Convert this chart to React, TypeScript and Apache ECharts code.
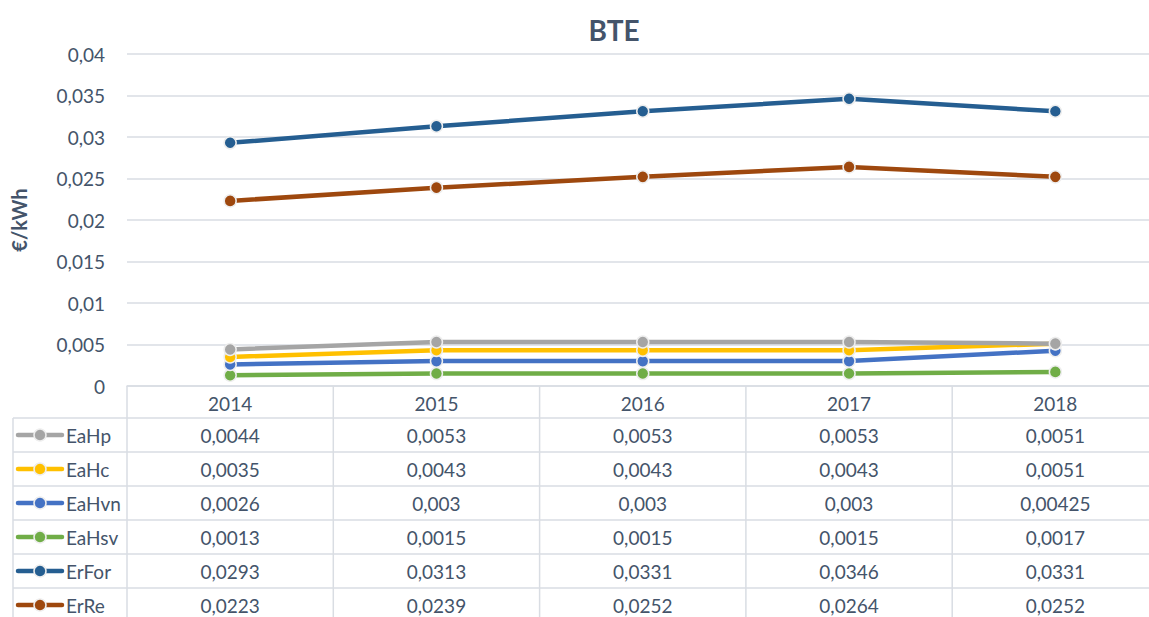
import React, { useEffect, useRef } from "react";
import * as echarts from "echarts";

const categories = ["2014", "2015", "2016", "2017", "2018"];
const seriesNames = ["EaHp", "EaHc", "EaHvn", "EaHsv", "ErFor", "ErRe"];
const eaHp = [0.0044, 0.0053, 0.0053, 0.0053, 0.0051];
const eaHc = [0.0035, 0.0043, 0.0043, 0.0043, 0.0051];
const eaHvn = [0.0026, 0.003, 0.003, 0.003, 0.00425];
const eaHsv = [0.0013, 0.0015, 0.0015, 0.0015, 0.0017];
const erFor = [0.0293, 0.0313, 0.0331, 0.0346, 0.0331];
const erRe = [0.0223, 0.0239, 0.0252, 0.0264, 0.0252];
const seriesValues = [eaHp, eaHc, eaHvn, eaHsv, erFor, erRe];
const colors = ["#a5a5a5", "#ffc000", "#4472c4", "#70ad47", "#255e91", "#9e480e"];

const FONT = "Lato, 'Open Sans', sans-serif";
const TEXT = "#44546a";
const LINE = "#d9dde3";
const FS = 19;

const fmt = (v: number) => String(v).replace(".", ",");

export default function App() {
  const ref = useRef<HTMLDivElement>(null);
  useEffect(() => {
    const chart = echarts.init(ref.current!, null, { renderer: "svg" });
    const gridTop = 54;
    const gridHeight = 332;
    const gridLeft = 127;
    chart.setOption({
      animation: false,
      backgroundColor: "#ffffff",
      textStyle: { fontFamily: FONT },
      title: {
        text: "BTE",
        left: 609,
        textAlign: "center",
        top: 11,
        textStyle: { fontSize: 28, fontWeight: "bold", color: TEXT, fontFamily: FONT },
      },
      grid: {
        left: gridLeft,
        top: gridTop,
        width: 1031.5,
        height: gridHeight,
        containLabel: false,
        outerBoundsMode: "none",
      },
      xAxis: {
        type: "category",
        data: categories,
        boundaryGap: true,
        axisLine: { show: true, lineStyle: { color: LINE, width: 1.5 } },
        axisTick: { show: false },
        axisLabel: { fontSize: FS, color: TEXT, margin: 8, fontFamily: FONT },
      },
      yAxis: {
        type: "value",
        min: 0,
        max: 0.04,
        interval: 0.005,
        name: "€/kWh",
        nameLocation: "middle",
        nameGap: 98,
        nameRotate: 90,
        nameTextStyle: { fontSize: 20, fontWeight: "bold", color: TEXT, fontFamily: FONT },
        axisLine: { show: false },
        axisTick: { show: false },
        splitLine: { lineStyle: { color: LINE, width: 1.5 } },
        axisLabel: {
          fontSize: FS,
          color: TEXT,
          margin: 22,
          fontFamily: FONT,
          formatter: (v: number) => fmt(Number(v.toFixed(4))),
        },
      },
      series: seriesNames.map((name, i) => ({
        name,
        type: "line",
        data: seriesValues[i],
        color: colors[i],
        lineStyle: { width: 4.5, color: colors[i] },
        symbol: "circle",
        symbolSize: 12,
        itemStyle: { color: colors[i], borderColor: "#eeeeee", borderWidth: 1.5 },
        z: 2 + (seriesNames.length - i),
      })),
    });

    // Data table below the chart
    const xs = categories.map((c) => chart.convertToPixel({ xAxisIndex: 0 }, c) as number);
    const band = xs[1] - xs[0];
    const y0 = chart.convertToPixel({ yAxisIndex: 0 }, 0) as number;
    const headerH = 32;
    const rowH = 34;
    const tableLeft = 13;
    const bottom = 617;
    const right = 1149;
    const graphics: any[] = [];
    for (let r = 0; r < seriesNames.length; r++) {
      const y = y0 + headerH + r * rowH;
      graphics.push({
        type: "line",
        shape: { x1: tableLeft, y1: y, x2: right, y2: y },
        style: { stroke: LINE, lineWidth: 1.5 },
      });
    }
    graphics.push({
      type: "line",
      shape: { x1: tableLeft, y1: y0 + headerH, x2: tableLeft, y2: bottom },
      style: { stroke: LINE, lineWidth: 1.5 },
    });
    for (let c = 0; c <= categories.length; c++) {
      const x = xs[0] - band / 2 + c * band;
      graphics.push({
        type: "line",
        shape: { x1: x, y1: y0, x2: x, y2: bottom },
        style: { stroke: LINE, lineWidth: 1.5 },
      });
    }
    seriesValues.forEach((vals, r) => {
      const cy = y0 + headerH + r * rowH + rowH / 2;
      graphics.push({
        type: "line",
        shape: { x1: 18, y1: cy, x2: 62, y2: cy },
        style: { stroke: colors[r], lineWidth: 4.5, lineCap: "round" },
      });
      graphics.push({
        type: "circle",
        shape: { cx: 40, cy, r: 6 },
        style: { fill: colors[r], stroke: "#eeeeee", lineWidth: 1.5 },
      });
      graphics.push({
        type: "text",
        x: 66,
        y: cy,
        style: {
          text: seriesNames[r],
          fill: TEXT,
          font: `${FS}px ${FONT}`,
          align: "left",
          verticalAlign: "middle",
        },
      });
      vals.forEach((v, c) => {
        graphics.push({
          type: "text",
          x: xs[c],
          y: cy,
          style: {
            text: fmt(v),
            fill: TEXT,
            font: `${FS}px ${FONT}`,
            align: "center",
            verticalAlign: "middle",
          },
        });
      });
    });
    chart.setOption({ graphic: graphics });

    return () => chart.dispose();
  }, []);
  return (
    <div
      ref={ref}
      style={{ position: "fixed", left: 0, top: 0, width: 1149, height: 617, background: "#fff" }}
    />
  );
}
